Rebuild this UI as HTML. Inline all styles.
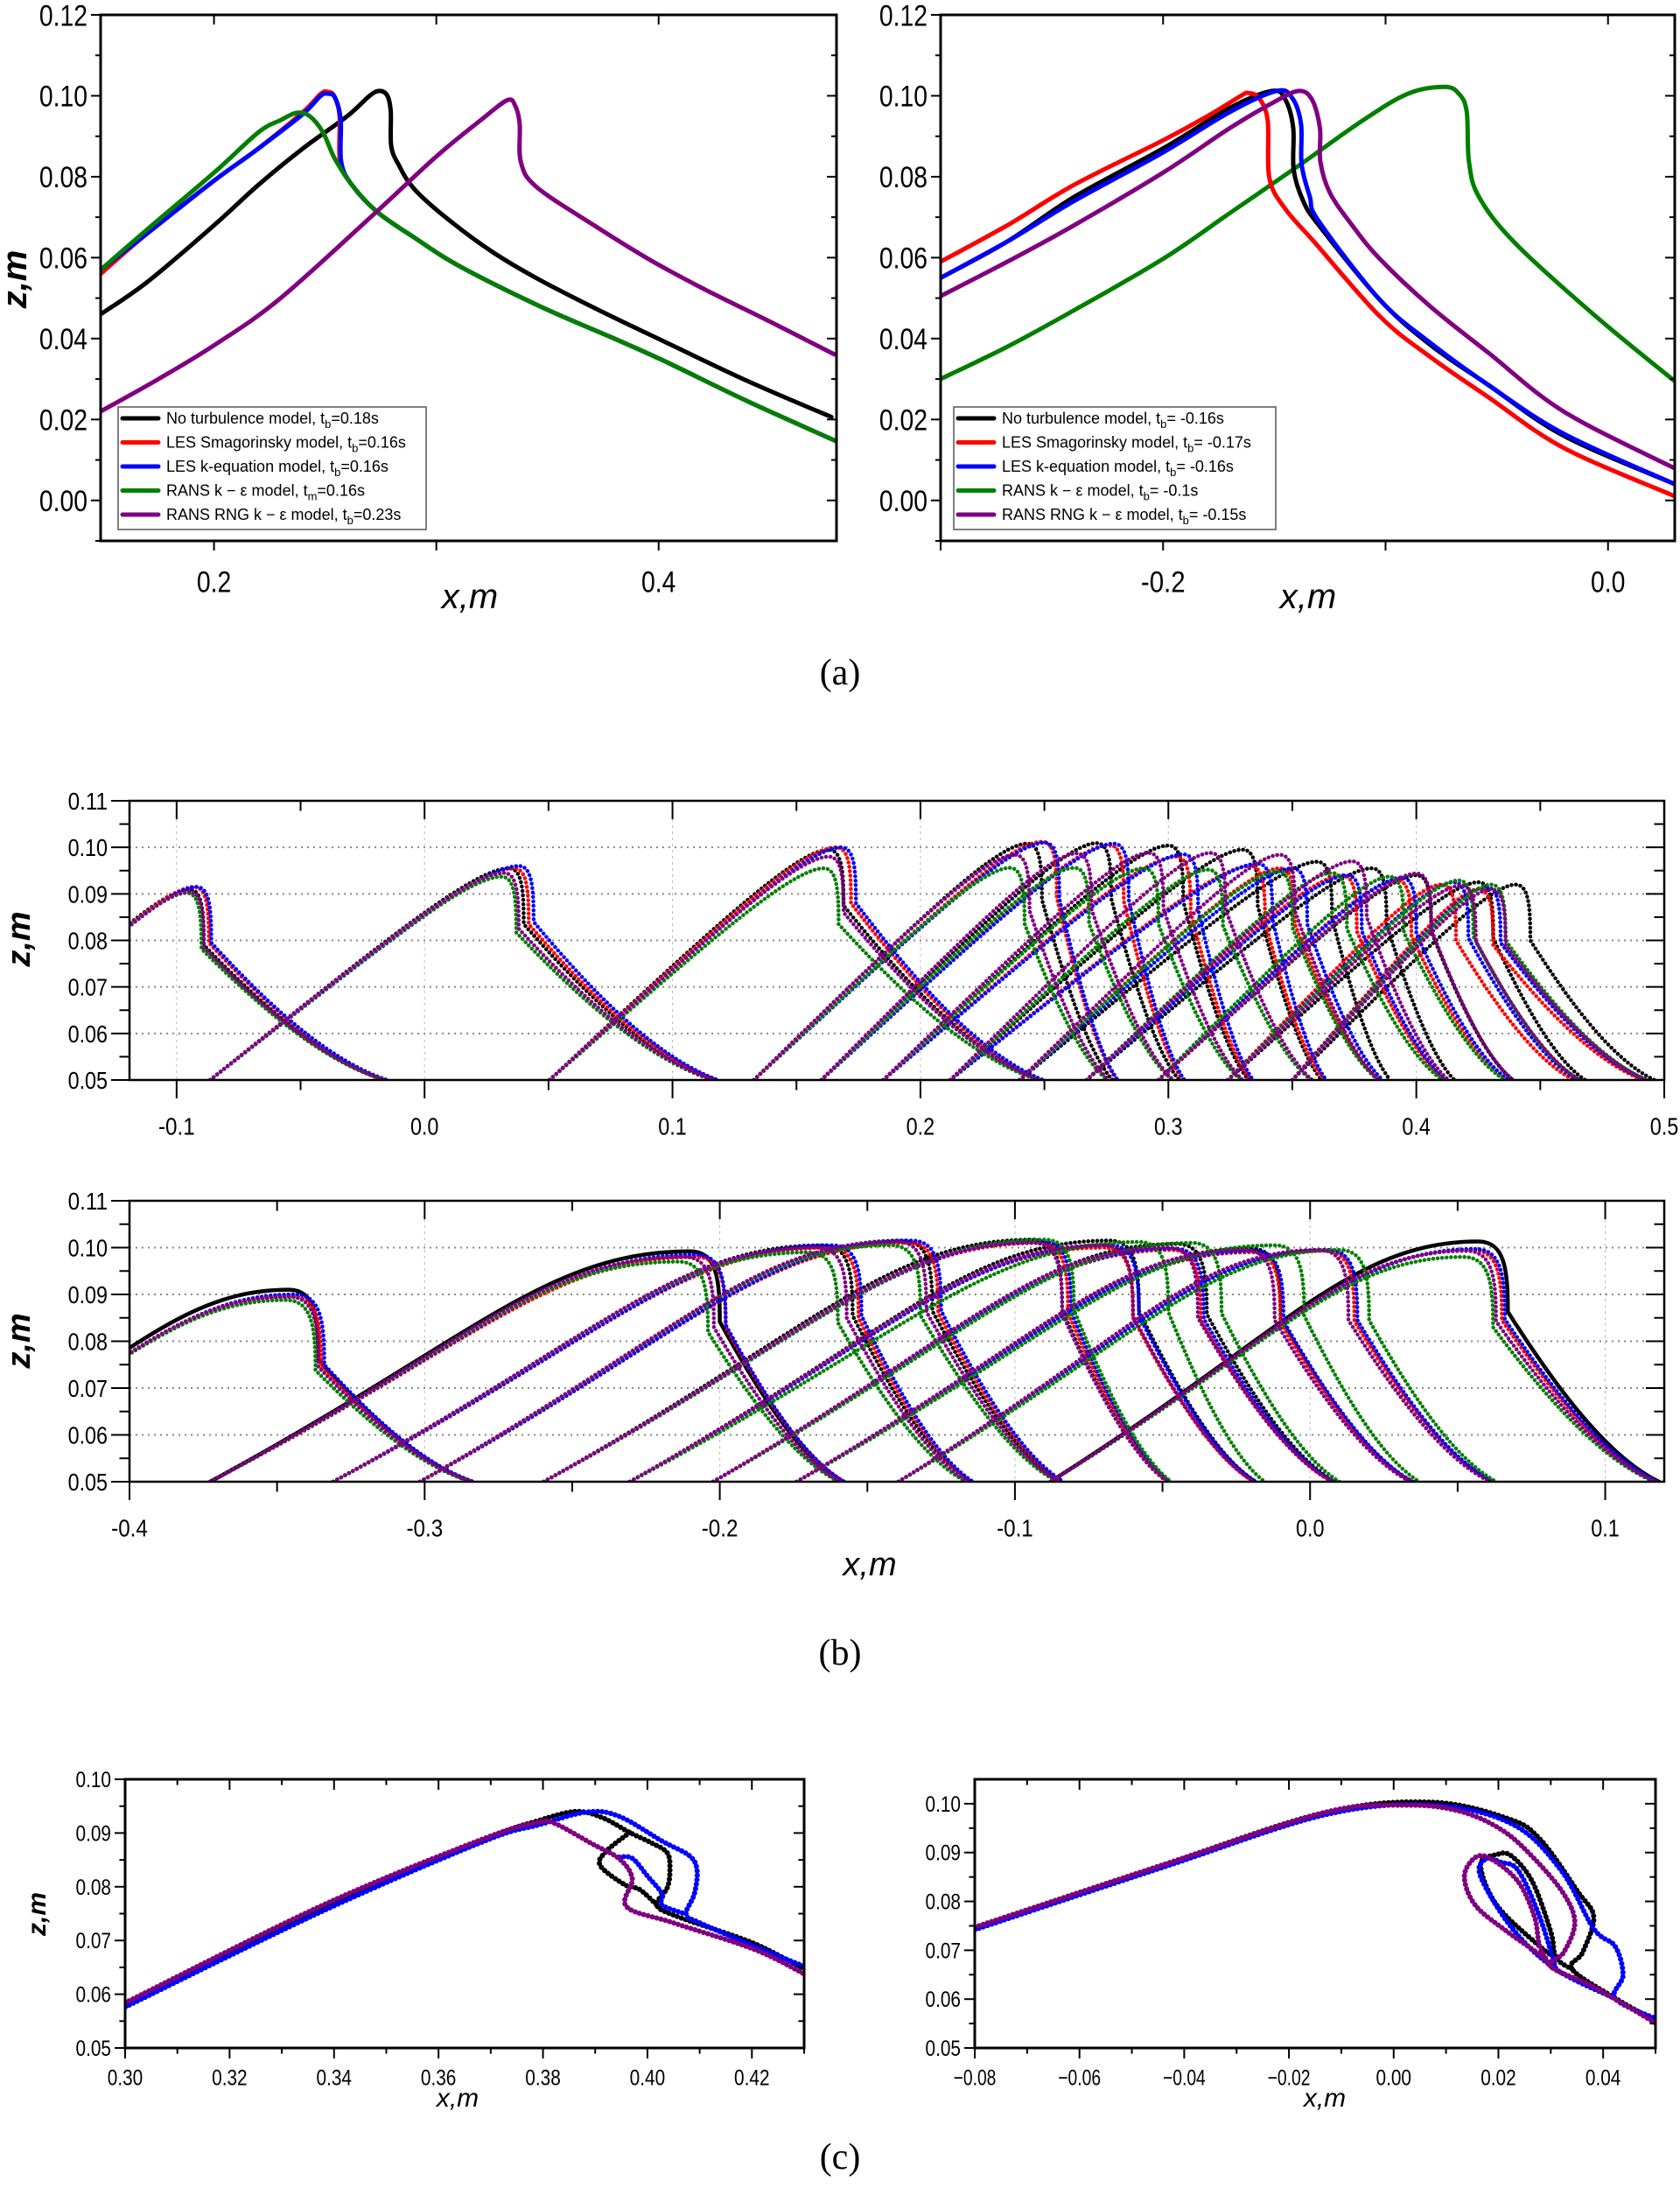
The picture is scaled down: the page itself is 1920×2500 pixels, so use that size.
<!DOCTYPE html>
<html><head><meta charset="utf-8"><title>Wave profiles</title>
<style>
html,body{margin:0;padding:0;background:#fff;}
svg{display:block;}
text{font-family:"Liberation Sans Narrow","Liberation Sans",sans-serif;fill:#000;}
.lg{font-family:"Liberation Sans",sans-serif;font-size:18px;}
.cap{font-family:"Liberation Serif",serif;font-size:42px;}
.ttl{font-family:"Liberation Sans",sans-serif;font-style:italic;}
</style></head>
<body>
<svg id="fig" width="1920" height="2500" viewBox="0 0 1920 2500" xmlns="http://www.w3.org/2000/svg">
<rect x="0" y="0" width="1920" height="2500" fill="#fff"/>
<text class="cap" x="960" y="782" text-anchor="middle">(a)</text>
<text class="cap" x="960" y="1902" text-anchor="middle">(b)</text>
<text class="cap" x="960" y="2478" text-anchor="middle">(c)</text>
</svg>
<script>
// ---------- tick data ----------
const aYTicks=[0,0.02,0.04,0.06,0.08,0.10,0.12];
const aYLabels=["0.00","0.02","0.04","0.06","0.08","0.10","0.12"];
const aLXTicks=[0.2,0.3,0.4];
const aLXLabels=["0.2","","0.4"];
const aRXTicks=[-0.3,-0.2,-0.1,0.0];
const aRXLabels=["","-0.2","","0.0"];
const bYTicks=[0.05,0.06,0.07,0.08,0.09,0.10,0.11];
const bYLabels=["0.05","0.06","0.07","0.08","0.09","0.10","0.11"];
const bTXTicks=[-0.1,0.0,0.1,0.2,0.3,0.4,0.5];
const bTXLabels=["-0.1","0.0","0.1","0.2","0.3","0.4","0.5"];
const bBXTicks=[-0.4,-0.3,-0.2,-0.1,0.0,0.1];
const bBXLabels=["-0.4","-0.3","-0.2","-0.1","0.0","0.1"];
const cYTicks=[0.05,0.06,0.07,0.08,0.09,0.10];
const cYLabels=["0.05","0.06","0.07","0.08","0.09","0.10"];
const cLXTicks=[0.30,0.32,0.34,0.36,0.38,0.40,0.42];
const cLXLabels=["0.30","0.32","0.34","0.36","0.38","0.40","0.42"];
const cRXTicks=[-0.08,-0.06,-0.04,-0.02,0.00,0.02,0.04];
const cRXLabels=["\u22120.08","\u22120.06","\u22120.04","\u22120.02","0.00","0.02","0.04"];

// ---------- panel (a) data ----------
const aL_black=[[0.149,0.046],[0.17,0.054],[0.2,0.068],[0.22,0.078],[0.24,0.087],[0.26,0.095],[0.27,0.1],[0.2745,0.1012],[0.278,0.1],[0.2795,0.096],[0.2797,0.0876],[0.283,0.083],[0.29,0.077],[0.305,0.0696],[0.325,0.0615],[0.3465,0.0545],[0.375,0.0465],[0.4024,0.0393],[0.44,0.0295],[0.4777,0.0206]];
const aL_red=[[0.149,0.056],[0.17,0.066],[0.2,0.079],[0.22,0.087],[0.24,0.096],[0.248,0.1005],[0.251,0.101],[0.254,0.1],[0.2565,0.095],[0.2567,0.0837],[0.262,0.078],[0.2736,0.0712],[0.29,0.065],[0.31,0.058],[0.3465,0.048],[0.38,0.040],[0.4024,0.0345],[0.44,0.0245],[0.48,0.0146]];
const aL_blue=[[0.149,0.057],[0.17,0.066],[0.2,0.079],[0.22,0.087],[0.24,0.0955],[0.248,0.1],[0.2515,0.1005],[0.2545,0.0995],[0.257,0.094],[0.2572,0.0837],[0.262,0.078],[0.2736,0.0712],[0.29,0.065],[0.31,0.058],[0.3465,0.048],[0.38,0.040],[0.4024,0.0345],[0.44,0.0245],[0.48,0.0146]];
const aL_green=[[0.149,0.057],[0.17,0.067],[0.2,0.081],[0.22,0.091],[0.23,0.094],[0.2372,0.0958],[0.243,0.095],[0.249,0.091],[0.2542,0.0846],[0.262,0.078],[0.2736,0.0712],[0.29,0.065],[0.31,0.058],[0.3465,0.048],[0.38,0.040],[0.4024,0.0345],[0.44,0.0245],[0.48,0.0146]];
const aL_purple=[[0.149,0.022],[0.175,0.030],[0.2008,0.0386],[0.23,0.05],[0.2736,0.0716],[0.30,0.085],[0.32,0.094],[0.3319,0.0989],[0.3355,0.0975],[0.3375,0.093],[0.338,0.0837],[0.345,0.0775],[0.3709,0.068],[0.395,0.0598],[0.4195,0.0525],[0.45,0.0442],[0.479,0.0361]];
const aR_black=[[-0.3,0.055],[-0.27,0.064],[-0.24,0.075],[-0.2,0.087],[-0.17,0.097],[-0.151,0.1012],[-0.145,0.099],[-0.1415,0.092],[-0.1413,0.0817],[-0.137,0.074],[-0.13,0.068],[-0.1026,0.0496],[-0.08,0.0385],[-0.054,0.0286],[-0.02,0.016],[0.0297,0.0041]];
const aR_red=[[-0.3,0.059],[-0.27,0.068],[-0.24,0.078],[-0.2,0.089],[-0.18,0.095],[-0.165,0.1],[-0.1619,0.1007],[-0.157,0.0995],[-0.153,0.094],[-0.1522,0.0796],[-0.145,0.072],[-0.1316,0.0636],[-0.1026,0.0455],[-0.08,0.0355],[-0.054,0.0256],[-0.02,0.013],[0.0297,0.0011]];
const aR_blue=[[-0.3,0.055],[-0.27,0.064],[-0.24,0.074],[-0.2,0.086],[-0.17,0.096],[-0.149,0.1012],[-0.142,0.0995],[-0.138,0.093],[-0.1377,0.083],[-0.134,0.075],[-0.13,0.069],[-0.1026,0.0496],[-0.08,0.039],[-0.054,0.0286],[-0.02,0.0165],[0.0297,0.0041]];
const aR_green=[[-0.3,0.030],[-0.27,0.038],[-0.24,0.047],[-0.2,0.0597],[-0.17,0.071],[-0.1389,0.0828],[-0.11,0.094],[-0.09,0.1005],[-0.0735,0.1022],[-0.067,0.1005],[-0.0635,0.096],[-0.0625,0.0837],[-0.058,0.075],[-0.0418,0.0636],[-0.0055,0.0455],[0.0297,0.0296]];
const aR_purple=[[-0.3,0.0505],[-0.27,0.059],[-0.24,0.068],[-0.2,0.081],[-0.17,0.092],[-0.15,0.0985],[-0.1389,0.1012],[-0.133,0.099],[-0.1295,0.092],[-0.1293,0.0837],[-0.125,0.076],[-0.115,0.068],[-0.1026,0.0597],[-0.08,0.048],[-0.054,0.0366],[-0.02,0.022],[0.0297,0.008]];

// ---------- panel (b) top data ----------
const bT_rise=[-0.19,-0.0865,0.0504,0.1328,0.160,0.185,0.212,0.240,0.267,0.296,0.324,0.350];
const bT_fall=[-0.016,0.1165,0.248,0.276,0.302,0.330,0.358,0.385,0.413,0.439,0.466,0.493];
const bT_blackX=[-0.095,0.034,0.163,0.243,0.271,0.300,0.330,0.360,0.382,0.400,0.425,0.44];
const bT_blackZ=[0.091,0.0955,0.0995,0.1008,0.1009,0.1004,0.0995,0.0969,0.0955,0.094,0.0925,0.092];
const bT_redX=[-0.093,0.036,0.166,0.249,0.276,0.303,0.333,0.345,0.37,0.392,0.41,0.425];
const bT_redZ=[0.0915,0.0955,0.100,0.1012,0.1005,0.098,0.096,0.0955,0.094,0.093,0.092,0.091];
const bT_blueX=[-0.092,0.038,0.168,0.250,0.278,0.306,0.336,0.350,0.372,0.394,0.415,0.428];
const bT_blueZ=[0.0915,0.096,0.1,0.101,0.1008,0.0985,0.0965,0.0955,0.094,0.0935,0.0925,0.0915];
const bT_greenX=[-0.096,0.031,0.161,0.236,0.262,0.290,0.316,0.344,0.366,0.389,0.417,0.43];
const bT_greenZ=[0.0902,0.0937,0.0955,0.0956,0.0956,0.0955,0.0952,0.0948,0.0945,0.0937,0.0929,0.092];
const bT_purpleX=[-0.095,0.032,0.163,0.238,0.263,0.292,0.317,0.345,0.374,0.40,0.418,0.43];
const bT_purpleZ=[0.0905,0.0945,0.098,0.0984,0.0987,0.0988,0.0988,0.0984,0.097,0.0944,0.0918,0.091];

// ---------- panel (b) bottom data ----------
const bB_rise=[-0.47,-0.3727,-0.331,-0.3016,-0.2597,-0.2305,-0.2023,-0.174,-0.1395,-0.088];
const bB_fall=[-0.284,-0.159,-0.1157,-0.085,-0.0483,-0.019,0.0075,0.034,0.061,0.117];
const bB_blackX=[-0.346,-0.21,-0.165,-0.138,-0.094,-0.068,-0.045,-0.02,0.006,0.057];
const bB_blackZ=[0.091,0.0992,0.1005,0.1015,0.1017,0.1015,0.1008,0.0998,0.0995,0.1013];
const bB_redX=[-0.345,-0.208,-0.163,-0.136,-0.092,-0.07,-0.047,-0.02,0.005,0.055];
const bB_redZ=[0.0895,0.098,0.1,0.101,0.101,0.1,0.0995,0.099,0.0993,0.0995];
const bB_blueX=[-0.344,-0.208,-0.162,-0.135,-0.091,-0.068,-0.046,-0.019,0.006,0.056];
const bB_blueZ=[0.090,0.0985,0.1005,0.1015,0.1013,0.1005,0.0998,0.0993,0.0995,0.0997];
const bB_greenX=[-0.347,-0.214,-0.17,-0.142,-0.09,-0.058,-0.04,-0.012,0.01,0.052];
const bB_greenZ=[0.0888,0.097,0.099,0.1005,0.1017,0.1012,0.101,0.1005,0.0995,0.098];
const bB_purpleX=[-0.346,-0.212,-0.167,-0.14,-0.094,-0.07,-0.048,-0.022,0.003,0.053];
const bB_purpleZ=[0.0895,0.098,0.1,0.1013,0.101,0.1005,0.1,0.0995,0.0995,0.0993];

// ---------- panel (c) data ----------
const cL_black=[[0.30,0.0578],[0.3379,0.0758],[0.3688,0.0888],[0.3791,0.0923],[0.3863,0.094],[0.3915,0.0928],[0.3966,0.0901],[0.4007,0.0882],[0.4038,0.0863],[0.4043,0.0831],[0.4038,0.0798],[0.4018,0.0766],[0.4059,0.0744],[0.4203,0.0695],[0.43,0.0646]];
const cL_blackLoop=[[0.3966,0.0901],[0.392,0.0865],[0.391,0.0839],[0.3956,0.0804],[0.3985,0.0795],[0.4018,0.0766]];
const cL_blue=[[0.30,0.0576],[0.3379,0.0755],[0.3688,0.0885],[0.3791,0.0915],[0.3884,0.0939],[0.3946,0.0931],[0.4028,0.0885],[0.408,0.0858],[0.4095,0.0831],[0.409,0.0787],[0.4074,0.0749],[0.41,0.0733],[0.4203,0.069],[0.43,0.0652]];
const cL_blueLoop=[[0.3946,0.0855],[0.3971,0.0853],[0.4,0.082],[0.4028,0.0787],[0.4028,0.0766],[0.4074,0.0749]];
const cL_purple=[[0.30,0.0584],[0.3379,0.0766],[0.3688,0.089],[0.3791,0.092],[0.3822,0.0918],[0.3894,0.088],[0.3946,0.0852],[0.3971,0.0815],[0.396,0.0763],[0.4049,0.0733],[0.4203,0.0684],[0.43,0.0638]];
const cR_black=[[-0.08,0.0747],[-0.044,0.0875],[-0.0132,0.0982],[0.0073,0.1003],[0.0217,0.097],[0.0279,0.0928],[0.0351,0.0821],[0.0382,0.0768],[0.0361,0.0696],[0.0341,0.0661],[0.0423,0.0602],[0.05,0.0555]];
const cR_blackLoop=[[0.0341,0.0661],[0.031,0.0685],[0.03,0.0738],[0.0265,0.084],[0.0225,0.0893],[0.0197,0.0896],[0.0166,0.0875],[0.0197,0.0792],[0.0279,0.0708],[0.031,0.0685]];
const cR_blue=[[-0.08,0.0742],[-0.044,0.087],[-0.0132,0.0977],[0.0073,0.0997],[0.0227,0.0958],[0.032,0.0863],[0.0382,0.0744],[0.0423,0.0708],[0.0438,0.0649],[0.0423,0.0601],[0.05,0.056]];
const cR_blueLoop=[[0.0423,0.0601],[0.031,0.0661],[0.0227,0.0744],[0.0166,0.0851],[0.0176,0.0887],[0.0205,0.088],[0.0238,0.0863],[0.0279,0.0768],[0.031,0.0661]];
const cR_purple=[[-0.08,0.0747],[-0.044,0.0875],[-0.0132,0.0982],[0.0022,0.0997],[0.0125,0.0985],[0.0207,0.0946],[0.0269,0.0887],[0.0325,0.0815],[0.0346,0.0756],[0.0325,0.0696],[0.03,0.0667],[0.0382,0.0625],[0.05,0.0551]];
const cR_purpleLoop=[[0.03,0.0667],[0.0279,0.0691],[0.0217,0.0738],[0.0156,0.0792],[0.0135,0.0851],[0.0156,0.089],[0.0186,0.0887],[0.0238,0.084],[0.0269,0.0768],[0.0279,0.0708],[0.03,0.0667]];

// ---------- helpers ----------
const NS='http://www.w3.org/2000/svg';
const svg=document.getElementById('fig');
const COL={black:'#000000',red:'#ff0000',blue:'#0000ff',green:'#007f00',purple:'#800080'};
function mk(tag,parent,attrs){const e=document.createElementNS(NS,tag);for(const k in attrs)e.setAttribute(k,attrs[k]);parent.appendChild(e);return e;}
function lin(d0,d1,p0,p1){return v=>p0+(v-d0)/(d1-d0)*(p1-p0);}
function cr(pts){let d='M'+pts[0][0].toFixed(1)+','+pts[0][1].toFixed(1);
 for(let i=0;i<pts.length-1;i++){const p0=pts[i-1]||pts[i],p1=pts[i],p2=pts[i+1],p3=pts[i+2]||p2;
  d+='C'+(p1[0]+(p2[0]-p0[0])/6).toFixed(1)+','+(p1[1]+(p2[1]-p0[1])/6).toFixed(1)+' '+(p2[0]-(p3[0]-p1[0])/6).toFixed(1)+','+(p2[1]-(p3[1]-p1[1])/6).toFixed(1)+' '+p2[0].toFixed(1)+','+p2[1].toFixed(1);}
 return d;}
function tlen(s,fs){let w=0;for(const ch of s){w+=(ch==='.'?0.24:(ch==='-'||ch==='\u2212')?0.33:0.46);}return (w*fs).toFixed(1);}
let clipN=0;
function panel(P){
 const g=mk('g',svg,{});
 
 
 P.X=lin(P.xmin,P.xmax,P.px0,P.px1);P.Y=lin(P.ymin,P.ymax,P.py1,P.py0);
 const id='clip'+(clipN++);
 const cp=mk('clipPath',g,{id:id});mk('rect',cp,{x:P.px0,y:P.py0,width:P.px1-P.px0,height:P.py1-P.py0});
 if(P.grid){
  P.yt.forEach(v=>{if(v>P.ymin&&v<P.ymax){const l=mk('line',g,{x1:P.px0,x2:P.px1,y1:P.Y(v),y2:P.Y(v),stroke:'#888','stroke-width':2,'stroke-dasharray':'2 5'});
   
   }});
  P.xt.forEach(v=>{if(v>P.xmin&&v<P.xmax){const l=mk('line',g,{x1:P.X(v),x2:P.X(v),y1:P.py0,y2:P.py1,stroke:'#bbb','stroke-width':1,'stroke-dasharray':'3 4'});
   
   }});
 }
 const plot=mk('g',g,{'clip-path':'url(#'+id+')'});
 
 
 const fr=mk('rect',g,{x:P.px0,y:P.py0,width:P.px1-P.px0,height:P.py1-P.py0,fill:'none',stroke:'#000','stroke-width':P.fw||3});
 
 
 const tl=P.tl, tm=tl*0.55;
 P.xt.forEach((v,i)=>{const x=P.X(v);
  mk('line',g,{x1:x,x2:x,y1:P.py1,y2:P.py1+tl,stroke:'#000','stroke-width':2});
  mk('line',g,{x1:x,x2:x,y1:P.py0,y2:P.py0+tl,stroke:'#000','stroke-width':2});
  if(P.xl[i]){const t=mk('text',g,{x:x,y:P.py1+tl+P.fs*1.05+P.xlpad,'text-anchor':'middle','font-size':P.fs,textLength:tlen(P.xl[i],P.fs),lengthAdjust:'spacingAndGlyphs'});t.textContent=P.xl[i];
   
   }});
 (P.xm||[]).forEach(v=>{const x=P.X(v);
  mk('line',g,{x1:x,x2:x,y1:P.py1,y2:P.py1+tm,stroke:'#000','stroke-width':2});
  mk('line',g,{x1:x,x2:x,y1:P.py0,y2:P.py0+tm,stroke:'#000','stroke-width':2});});
 P.yt.forEach((v,i)=>{const y=P.Y(v);
  mk('line',g,{x1:P.px0-tl,x2:P.px0,y1:y,y2:y,stroke:'#000','stroke-width':2});
  mk('line',g,{x1:P.px1-tl,x2:P.px1,y1:y,y2:y,stroke:'#000','stroke-width':2});
  if(P.yl[i]){const t=mk('text',g,{x:P.px0-tl-4,y:y+P.fs*0.36,'text-anchor':'end','font-size':P.fs,textLength:tlen(P.yl[i],P.fs),lengthAdjust:'spacingAndGlyphs'});t.textContent=P.yl[i];
   
   }});
 (P.ym||[]).forEach(v=>{const y=P.Y(v);
  mk('line',g,{x1:P.px0-tm,x2:P.px0,y1:y,y2:y,stroke:'#000','stroke-width':2});
  mk('line',g,{x1:P.px1-tm,x2:P.px1,y1:y,y2:y,stroke:'#000','stroke-width':2});});
 P.plot=plot;return P;}
function ytitle(x,y,fs,name){const t=mk('text',svg,{x:0,y:0,transform:'translate('+x+','+y+') rotate(-90)','text-anchor':'middle','font-size':fs,'font-weight':'bold',class:'ttl'});t.textContent='z,m';
 
 }
function xtitle(x,y,fs,name){const t=mk('text',svg,{x:x,y:y,'text-anchor':'middle','font-size':fs,class:'ttl'});t.textContent='x,m';
 
 }
function series(P,pts,col,w,dash,name){const px=pts.map(p=>[P.X(p[0]),P.Y(p[1])]);
 const a={d:cr(px),fill:'none',stroke:COL[col],'stroke-width':w,'stroke-linecap':'round','stroke-linejoin':'round'};
 if(dash)a['stroke-dasharray']=dash;
 const e=mk('path',P.plot,a);
 
 }
function wave(P,rise,cx,cz,fall,col,w,dash,round,fw,fd,name){
 const X=P.X,Y=P.Y,b=0.05;
 const fx=cx+fw,fz=cz-fd;
 let d='M'+X(rise)+','+Y(b);
 d+='C'+X(rise+(cx-rise)*0.55)+','+Y(b+(cz-b)*0.62)+' '+X(cx-(cx-rise)*round)+','+Y(cz)+' '+X(cx)+','+Y(cz);
 d+='C'+X(cx+fw*0.9)+','+Y(cz)+' '+X(fx)+','+Y(cz-fd*0.4)+' '+X(fx)+','+Y(fz);
 d+='C'+X(fx+(fall-fx)*0.3)+','+Y(fz-(fz-b)*0.42)+' '+X(fx+(fall-fx)*0.65)+','+Y(b+(fz-b)*0.15)+' '+X(fall)+','+Y(b);
 const a={d:d,fill:'none',stroke:COL[col],'stroke-width':w,'stroke-linecap':'round'};
 if(dash)a['stroke-dasharray']=dash;
 const e=mk('path',P.plot,a);
 
 }
function legend(x,y,w,h,rows,name){const g=mk('g',svg,{});
 
 
 mk('rect',g,{x:x,y:y,width:w,height:h,fill:'#fff',stroke:'#555','stroke-width':1.5});
 rows.forEach((r,i)=>{const cy=y+13+i*27.5;
  const ln=mk('line',g,{x1:x+5,x2:x+46,y1:cy,y2:cy,stroke:COL[r[0]],'stroke-width':5,'stroke-linecap':'round'});
  
  
  const t=mk('text',g,{x:x+55,y:cy+6,class:'lg'});
  
  
  const t1=mk('tspan',t,{});t1.textContent=r[1];
  const t2=mk('tspan',t,{'font-size':13,dy:5});t2.textContent=r[2];
  const t3=mk('tspan',t,{dy:-5});t3.textContent=r[3];});}

const MODELS=['black','red','blue','green','purple'];

// ---------- panel (a) ----------
const aMinorY=[-0.01,0.01,0.03,0.05,0.07,0.09,0.11];
const PaL=panel({name:'panel-a-left',px0:115,px1:956,py0:17,py1:618,xmin:0.149,xmax:0.48,ymin:-0.01,ymax:0.12,xt:aLXTicks,xl:aLXLabels,yt:aYTicks,yl:aYLabels,ym:aMinorY,tl:11,fs:34,xlpad:12});
[['black',aL_black],['red',aL_red],['blue',aL_blue],['green',aL_green],['purple',aL_purple]].forEach(s=>series(PaL,s[1],s[0],5,null,'a-left-'+s[0]+'-line'));
const PaR=panel({name:'panel-a-right',px0:1075,px1:1914,py0:17,py1:618,xmin:-0.3,xmax:0.03,ymin:-0.01,ymax:0.12,xt:aRXTicks,xl:aRXLabels,yt:aYTicks,yl:aYLabels,ym:aMinorY,tl:11,fs:34,xlpad:12});
[['green',aR_green],['black',aR_black],['red',aR_red],['blue',aR_blue],['purple',aR_purple]].forEach(s=>series(PaR,s[1],s[0],5,null,'a-right-'+s[0]+'-line'));
ytitle(30,319,40,'a-left-y-title');
xtitle(537,695,40,'a-left-x-title');
xtitle(1495,695,40,'a-right-x-title');
legend(135,465,352,140,[['black','No turbulence model, t','b','=0.18s'],['red','LES  Smagorinsky model, t','b','=0.16s'],['blue','LES   k-equation model, t','b','=0.16s'],['green','RANS  k \u2212 \u03b5 model, t','m','=0.16s'],['purple','RANS  RNG k \u2212 \u03b5 model, t','b','=0.23s']],'legend-a-left');
legend(1090,465,368,140,[['black','No turbulence model, t','b','= -0.16s'],['red','LES  Smagorinsky model, t','b','= -0.17s'],['blue','LES   k-equation model, t','b','= -0.16s'],['green','RANS  k \u2212 \u03b5 model, t','b','= -0.1s'],['purple','RANS  RNG k \u2212 \u03b5 model, t','b','= -0.15s']],'legend-a-right');

// ---------- panel (b) ----------
const bMinorY=[0.055,0.065,0.075,0.085,0.095,0.105];
const PbT=panel({name:'panel-b-top',px0:148,px1:1902,py0:915,py1:1234,xmin:-0.119,xmax:0.5,ymin:0.05,ymax:0.11,xt:bTXTicks,xl:bTXLabels,xm:[-0.05,0.05,0.15,0.25,0.35,0.45],yt:bYTicks,yl:bYLabels,ym:bMinorY,tl:21,fs:28,xlpad:12,grid:true,fw:2.5});
const bTX={black:bT_blackX,red:bT_redX,blue:bT_blueX,green:bT_greenX,purple:bT_purpleX};
const bTZ={black:bT_blackZ,red:bT_redZ,blue:bT_blueZ,green:bT_greenZ,purple:bT_purpleZ};
MODELS.forEach(m=>bT_rise.forEach((r,i)=>wave(PbT,r,bTX[m][i],bTZ[m][i],bT_fall[i]+(bTX[m][i]-bT_purpleX[i])*0.3,m,4.5,'0.1 5',0.12,0.006,0.012,'b-top-'+m+'-profile-'+(i+1))));
const PbB=panel({name:'panel-b-bottom',px0:148,px1:1902,py0:1372,py1:1693,xmin:-0.4,xmax:0.12,ymin:0.05,ymax:0.11,xt:bBXTicks,xl:bBXLabels,xm:[-0.35,-0.25,-0.15,-0.05,0.05],yt:bYTicks,yl:bYLabels,ym:bMinorY,tl:21,fs:28,xlpad:12,grid:true,fw:2.5});
const bBX={black:bB_blackX,red:bB_redX,blue:bB_blueX,green:bB_greenX,purple:bB_purpleX};
const bBZ={black:bB_blackZ,red:bB_redZ,blue:bB_blueZ,green:bB_greenZ,purple:bB_purpleZ};
MODELS.forEach(m=>bB_rise.forEach((r,i)=>wave(PbB,r,bBX[m][i],bBZ[m][i],bB_fall[i]+(bBX[m][i]-bB_purpleX[i])*0.3,m,4.5,(m==='black'&&(i===0||i===1||i===9))?null:'0.1 5',0.3,0.01,0.015,'b-bottom-'+m+'-profile-'+(i+1))));
ytitle(34,1073,38,'b-top-y-title');
ytitle(34,1532,38,'b-bottom-y-title');
xtitle(994,1800,38,'b-x-title');

// ---------- panel (c) ----------
const cMinorY=[0.055,0.065,0.075,0.085,0.095];
const PcL=panel({name:'panel-c-left',px0:143,px1:919,py0:2033,py1:2340,xmin:0.30,xmax:0.43,ymin:0.05,ymax:0.10,xt:cLXTicks,xl:cLXLabels,xm:[0.31,0.33,0.35,0.37,0.39,0.41,0.43],yt:cYTicks,yl:cYLabels,ym:cMinorY,tl:12,fs:25,xlpad:4});
[['black',cL_black],['black',cL_blackLoop],['blue',cL_blue],['blue',cL_blueLoop],['purple',cL_purple]].forEach((s,i)=>series(PcL,s[1],s[0],6,'0.1 5','c-left-'+s[0]+'-line-'+i));
const PcR=panel({name:'panel-c-right',px0:1114,px1:1892,py0:2033,py1:2340,xmin:-0.08,xmax:0.05,ymin:0.05,ymax:0.105,xt:cRXTicks,xl:cRXLabels,xm:[-0.07,-0.05,-0.03,-0.01,0.01,0.03,0.05],yt:cYTicks,yl:cYLabels,ym:cMinorY,tl:12,fs:25,xlpad:4});
[['black',cR_black],['black',cR_blackLoop],['blue',cR_blue],['blue',cR_blueLoop],['purple',cR_purple],['purple',cR_purpleLoop]].forEach((s,i)=>series(PcR,s[1],s[0],6,'0.1 5','c-right-'+s[0]+'-line-'+i));
ytitle(52,2187,30,'c-left-y-title');
xtitle(523,2407,30,'c-left-x-title');
xtitle(1514,2407,30,'c-right-x-title');
</script>
</body></html>
